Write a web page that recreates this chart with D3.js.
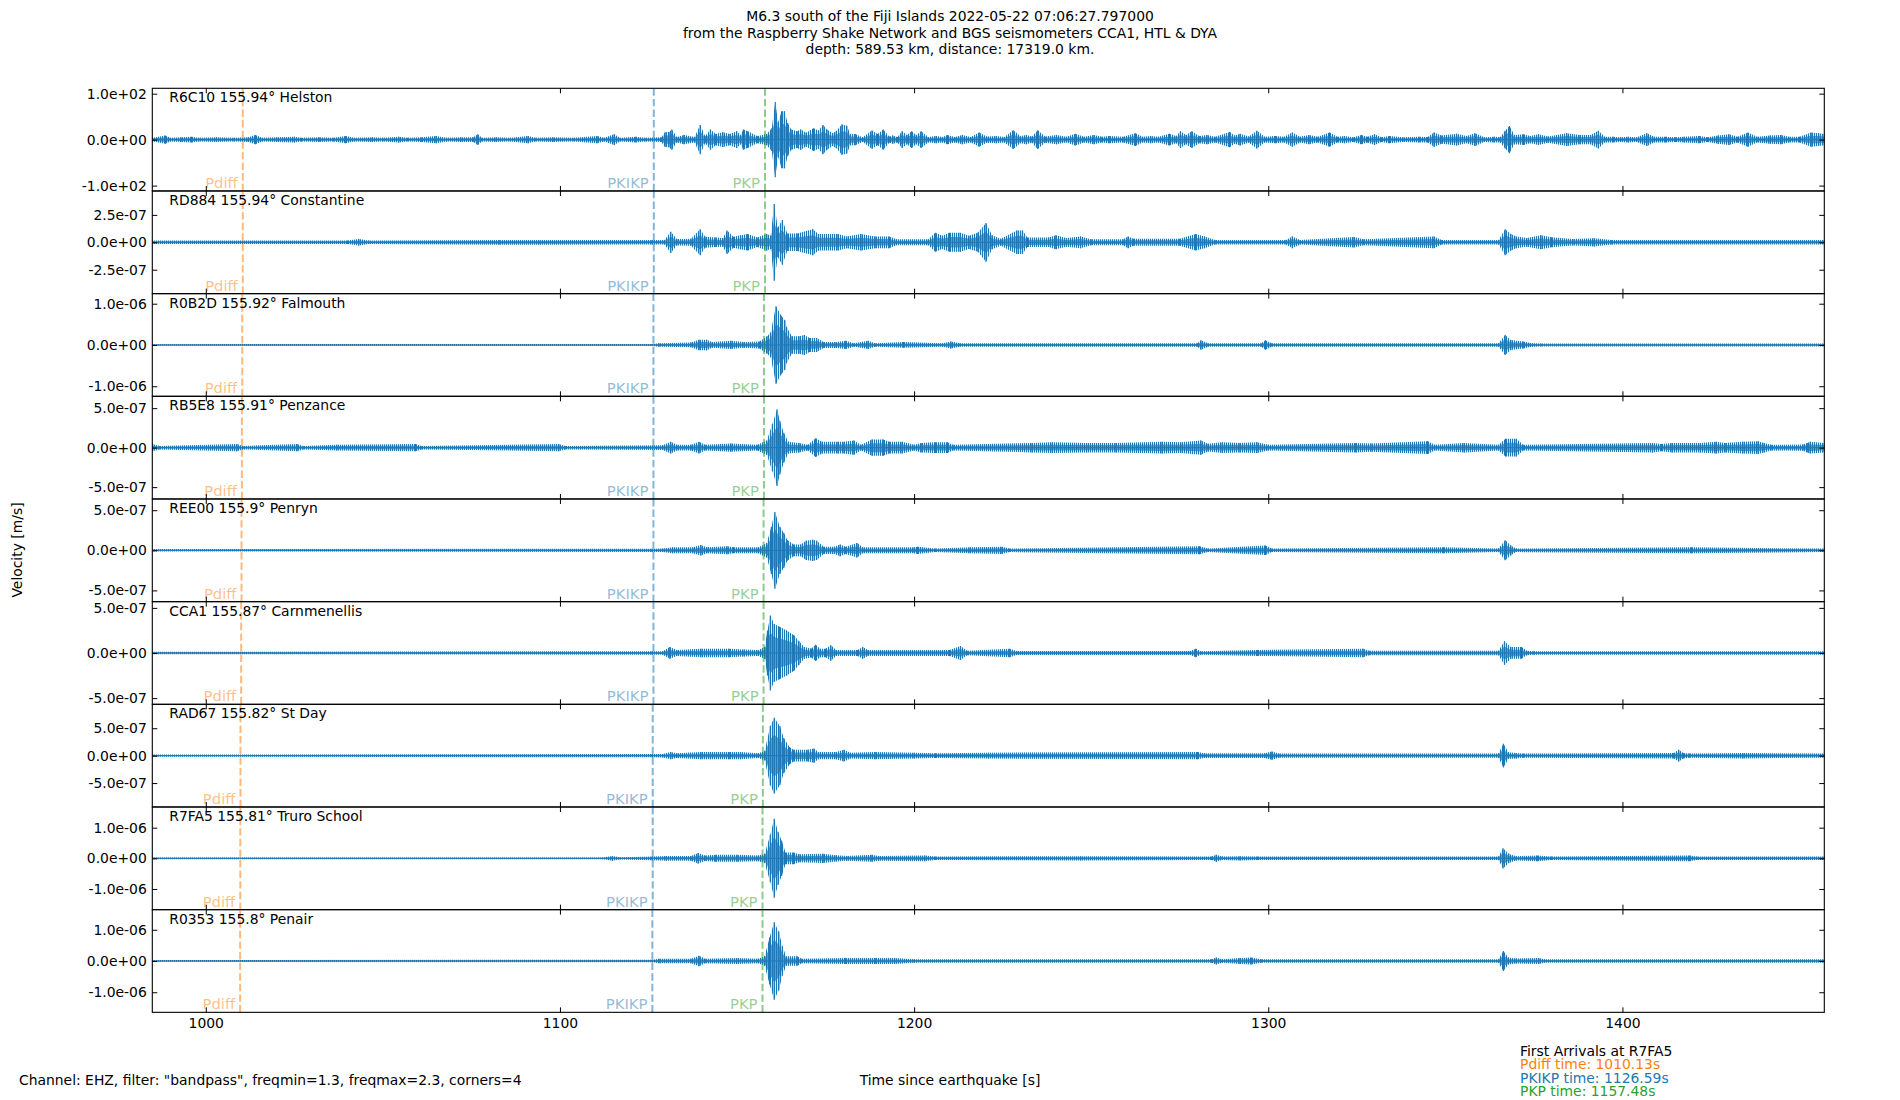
<!DOCTYPE html>
<html>
<head>
  <meta charset="utf-8">
  <title>M6.3 south of the Fiji Islands - seismograms</title>
  <script src="https://d3js.org/d3.v7.min.js"></script>
  <style>
    body { margin: 0; background: #ffffff; }
    svg text { font-family: "DejaVu Sans", sans-serif; }
  </style>
</head>
<body>
<svg class="chart" width="1900" height="1100"></svg>
<script>

// Title lines
const titleLines = [
  "M6.3 south of the Fiji Islands 2022-05-22 07:06:27.797000",
  "from the Raspberry Shake Network and BGS seismometers CCA1, HTL & DYA",
  "depth: 589.53 km, distance: 17319.0 km."
];

// Stations, top to bottom
const stations  = ["R6C10", "RD884", "R0B2D", "RB5E8", "REE00", "CCA1", "RAD67", "R7FA5", "R0353"];
const distances = ["155.94", "155.94", "155.92", "155.91", "155.9", "155.87", "155.82", "155.81", "155.8"];
const places    = ["Helston", "Constantine", "Falmouth", "Penzance", "Penryn", "Carnmenellis", "St Day", "Truro School", "Penair"];

// Arrival times per station (s)
const pdiffTimes = [1010.45, 1010.45, 1010.3, 1010.2, 1010.1, 1010.0, 1009.8, 1009.75, 1009.7];
const pkikpTimes = [1126.5, 1126.5, 1126.4, 1126.4, 1126.4, 1126.4, 1126.2, 1126.2, 1126.1];
const pkpTimes   = [1157.9, 1157.9, 1157.6, 1157.6, 1157.5, 1157.5, 1157.3, 1157.2, 1157.2];

// y axis half-range and tick step per panel (panel 1 in counts, others m/s)
const yLimits = [111.7, 4.68e-7, 1.244e-6, 6.5e-7, 6.4e-7, 5.69e-7, 9.36e-7, 1.675e-6, 1.643e-6];
const yTickSteps = [100, 2.5e-7, 1e-6, 5e-7, 5e-7, 5e-7, 5e-7, 1e-6, 1e-6];

// envelope values below are in these units
const envUnits = [1, 1e-7, 1e-7, 1e-7, 1e-7, 1e-7, 1e-7, 1e-7, 1e-7];

// x axis
const timeRange = [984.9, 1457.0];
const xTickValues = [1000, 1100, 1200, 1300, 1400];

// Trace envelopes: [time (s), amplitude]
const envR6C10 = [[985,4],[988.6,9],[990,4],[993,5],[996,6.5],[998,4],[1003,5],[1008,4],[1012,5],[1014,10],[1016,4],[1020,5],[1025,6.5],[1027,4],[1032,5],[1036,4],[1039.5,7.7],[1042,4],[1047,5],[1050,4],[1054.5,6.5],[1057,4],[1061,5],[1065,7.7],[1068,4],[1072,5],[1075.5,5],[1076.8,11.5],[1078,4],[1082,5],[1086,4],[1091,7.7],[1093,4],[1098,5],[1104,4],[1110.5,7.7],[1112.5,4],[1115.3,11.5],[1117,4],[1121.4,6.5],[1124,4],[1128.6,5],[1129.7,16],[1130.8,16.7],[1131.6,22],[1133,6],[1135,10],[1138,6],[1139.6,32],[1141,8],[1142.5,22],[1144,12],[1146,16],[1148,12],[1149.9,18],[1151,10],[1151.8,22],[1153,18],[1155.7,7.7],[1158.4,12],[1159.8,25],[1160.8,82],[1161.6,38],[1162.6,62],[1163.4,62],[1164.3,36],[1165.3,22],[1167,18],[1168,22],[1169.5,15],[1171.6,25],[1173,20],[1174.3,32],[1175.4,22],[1177,14],[1178,18],[1179.6,33],[1181,30],[1182,12],[1183.4,12],[1185.5,5],[1188.1,20],[1189.7,12],[1191.3,22],[1193,7],[1194,9],[1195.3,6],[1196.6,18],[1198,10],[1199.3,18],[1200.6,10],[1202,18],[1204,6],[1206.2,7.7],[1208,6],[1209.4,10],[1211.5,6],[1213.6,10],[1216,6],[1218.4,15.4],[1220.5,7],[1223.2,7.7],[1225.5,6],[1228,20.5],[1230,8],[1231.7,10],[1233.3,7],[1234.9,20.5],[1237,7],[1240.2,10],[1243,6.4],[1245.5,12.8],[1248,6.4],[1250.8,10],[1253,6.4],[1255.1,7.7],[1259,6.4],[1262.5,14],[1264.5,6.4],[1266.8,7.7],[1269,6.4],[1272.1,12.8],[1274,8],[1275.2,18],[1276.8,10],[1278.4,18],[1280.5,8],[1282.7,10],[1285,6.4],[1289.1,16.7],[1290.5,9],[1292,12.8],[1294.5,7],[1296.8,19.2],[1299,6.4],[1302,8],[1304.5,6.4],[1306.8,15.4],[1309,6.4],[1311.5,10],[1314,6.4],[1317.3,15.4],[1319.5,6.4],[1321.5,7.7],[1324,5],[1326.3,10],[1328,6.4],[1330,11.5],[1332,5],[1334.2,7.7],[1338,5],[1342.6,6.4],[1345,6],[1346.8,15.4],[1349,9],[1353.2,12.8],[1356,8],[1358.4,14],[1361,5],[1363.7,6.4],[1365.5,6],[1366.9,19.2],[1368.1,29.5],[1369.5,10],[1372.1,11.5],[1374,8],[1376.3,11.5],[1379,7],[1384.3,14],[1388,10],[1391,10],[1393.2,19.2],[1395,6.4],[1397.4,6.4],[1399.5,5],[1401.6,6.4],[1404,5],[1406.9,14],[1409,6.4],[1412.2,6.4],[1415,5],[1417.4,6.4],[1421.7,7.7],[1424,5],[1427,9],[1430.1,11.5],[1432.5,6.4],[1435.4,15.4],[1438,6.4],[1441.7,9],[1444.8,10],[1447,6.4],[1450,6.4],[1453.3,15.4],[1455.4,14],[1457,12]];
const envRD884 = [[985,0.16],[1040,0.16],[1043.2,0.3],[1046,0.16],[1082.8,0.22],[1094,0.22],[1126,0.2],[1129.5,0.2],[1131.3,0.97],[1133,0.3],[1137,0.32],[1139.6,1.18],[1141,0.5],[1144,0.43],[1146,0.4],[1147.2,1.07],[1149,0.5],[1151,0.64],[1153,0.75],[1155.7,0.43],[1158.4,0.75],[1159.5,0.6],[1160.5,3.5],[1161.5,1.34],[1162.8,2.04],[1164.2,0.8],[1167,0.8],[1171.4,1.18],[1173,0.75],[1178.5,0.75],[1181,0.54],[1185,0.75],[1189,0.54],[1193,0.54],[1195,0.27],[1204,0.27],[1206,0.86],[1208,0.6],[1210,0.86],[1213,0.86],[1215.5,0.6],[1218,0.86],[1220.3,1.77],[1222,0.64],[1224.5,0.32],[1229,1.07],[1230.6,1.07],[1232,0.43],[1238,0.43],[1240,0.64],[1243,0.4],[1247,0.54],[1250,0.27],[1259,0.27],[1260.4,0.54],[1262,0.32],[1275,0.32],[1279.5,0.75],[1282,0.54],[1285,0.2],[1305,0.2],[1306.8,0.54],[1309,0.2],[1324.2,0.48],[1327,0.27],[1346.8,0.54],[1349,0.2],[1365,0.2],[1366.9,1.18],[1368.5,0.75],[1370,0.54],[1373,0.4],[1377,0.64],[1380,0.45],[1386,0.3],[1392,0.38],[1397,0.2],[1457,0.2]];
const envR0B2D = [[985,0.2],[1126,0.25],[1128,0.43],[1137,0.57],[1139.3,1.29],[1141.4,1.29],[1143,0.7],[1148.3,1.0],[1152,0.7],[1156.3,0.85],[1158.5,2.1],[1159.5,3],[1161,9.4],[1162.5,7.1],[1163.5,6],[1164,4.3],[1165.5,2.1],[1167.5,2.1],[1169,2.4],[1170.5,1.7],[1172.5,1.7],[1174.5,0.71],[1178,0.71],[1180.7,1.0],[1183,0.43],[1187,1.0],[1189,0.43],[1197,0.7],[1208,0.43],[1210.4,0.86],[1213,0.43],[1280,0.43],[1281,1.14],[1283,0.43],[1298,0.43],[1299.2,1.14],[1301,0.43],[1365,0.43],[1366.9,2.4],[1368.5,1.2],[1372,0.86],[1374,0.5],[1377,0.36],[1457,0.36]];
const envRB5E8 = [[985,0.45],[987,0.22],[1008.8,0.45],[1010.5,0.22],[1025.8,0.45],[1027.5,0.22],[1037,0.37],[1059.2,0.45],[1061,0.22],[1099.7,0.45],[1101.5,0.22],[1129,0.3],[1131.3,0.75],[1133,0.37],[1137,0.37],[1139.3,0.75],[1141,0.37],[1148.3,0.52],[1155.7,0.37],[1158.4,0.9],[1160,3.0],[1161.3,4.85],[1162.1,3.4],[1163.2,1.9],[1164.5,0.75],[1167.5,0.6],[1170,0.37],[1172.2,1.2],[1174,0.75],[1178.5,0.75],[1180.2,0.75],[1183,0.9],[1185,0.37],[1188.1,1.04],[1191.3,1.04],[1193,0.75],[1196.6,0.75],[1200,0.37],[1202,0.6],[1206,0.67],[1209.4,0.67],[1211,0.37],[1233.3,0.6],[1239,0.67],[1248.7,0.6],[1257,0.6],[1270,0.75],[1275.3,0.67],[1281,0.9],[1283,0.5],[1287,0.67],[1292,0.6],[1296.8,0.67],[1300,0.37],[1324.7,0.6],[1329,0.52],[1345,0.82],[1347,0.37],[1355.3,0.6],[1365,0.37],[1367,1.12],[1370,1.12],[1372,0.37],[1408.5,0.6],[1411,0.45],[1414,0.6],[1422,0.6],[1426.4,0.75],[1429,0.6],[1434,0.75],[1438.3,0.82],[1440,0.6],[1442,0.37],[1451,0.4],[1452.2,0.6],[1453,0.75],[1457,0.6]];
const envREE00 = [[985,0.15],[1126,0.2],[1129,0.22],[1131.8,0.37],[1137.5,0.37],[1139.8,0.66],[1141.5,0.37],[1147.2,0.5],[1149,0.37],[1156,0.37],[1158.4,0.9],[1159.7,2.94],[1160.7,4.78],[1162.1,2.94],[1163.2,2.2],[1164.2,1.3],[1166,0.74],[1168,0.74],[1169.5,1.2],[1171.4,1.32],[1172.5,1.2],[1174.5,0.45],[1177.5,0.45],[1179.1,0.74],[1180.7,0.45],[1183.9,0.9],[1185.5,0.37],[1200,0.37],[1201,0.45],[1206,0.22],[1215.8,0.37],[1224.8,0.45],[1227,0.22],[1280.6,0.5],[1283,0.22],[1299.2,0.59],[1301,0.22],[1349.5,0.37],[1365,0.22],[1366.9,1.25],[1368.5,0.6],[1370,0.22],[1419.5,0.37],[1457,0.22]];
const envCCA1 = [[985,0.13],[1126,0.2],[1129,0.2],[1131,0.65],[1133,0.33],[1139.8,0.46],[1147.8,0.46],[1152,0.4],[1156,0.33],[1157.8,0.65],[1158.6,2.5],[1159.4,4.15],[1160.5,3.2],[1162,2.9],[1164,2.5],[1166,2.0],[1167.5,1.3],[1169,0.65],[1171,0.5],[1172.2,0.9],[1173.5,0.46],[1175,0.46],[1176.5,0.85],[1178,0.33],[1184,0.33],[1185.5,0.65],[1187,0.33],[1210,0.33],[1213.1,0.78],[1215,0.26],[1227,0.46],[1229,0.23],[1278,0.23],[1279.5,0.46],[1281,0.2],[1297,0.33],[1326.8,0.46],[1328.5,0.26],[1365,0.26],[1366.7,1.3],[1368.5,0.65],[1371.5,0.65],[1373,0.26],[1375,0.2],[1457,0.2]];
const envRAD67 = [[985,0.2],[1126,0.3],[1129,0.32],[1131.3,0.65],[1133,0.43],[1139.8,0.65],[1142.5,0.65],[1147.8,0.65],[1151,0.65],[1156,0.43],[1157.8,0.86],[1159.4,5.4],[1160.5,6.9],[1162.1,5.4],[1163.2,3.2],[1164.8,1.6],[1166,1.08],[1170,1.08],[1171.7,1.3],[1173,0.65],[1178,0.65],[1180.2,1.08],[1182,0.54],[1189,0.65],[1200,0.54],[1206,0.43],[1221,0.54],[1280,0.65],[1282,0.43],[1299,0.43],[1301,0.75],[1303,0.38],[1365,0.38],[1366.4,2.15],[1367.8,0.6],[1370,0.5],[1372,0.38],[1414.5,0.5],[1415.9,1.08],[1417.2,0.5],[1419,0.38],[1434,0.5],[1457,0.38]];
const envR7FA5 = [[985,0.29],[1112,0.29],[1114.8,0.77],[1117,0.35],[1126,0.6],[1130,0.77],[1137,0.77],[1139,1.7],[1141,0.9],[1144,1.15],[1150,1.15],[1156,0.96],[1157.8,1.5],[1159.4,7.7],[1160.5,12.9],[1161.6,8.7],[1162.6,5.8],[1163.7,1.9],[1166,1.9],[1167.5,1.3],[1174.3,1.5],[1178,1.0],[1181,0.77],[1188.1,1.15],[1190,0.77],[1203,0.96],[1206,0.58],[1247,0.7],[1284,0.58],[1285.3,1.15],[1287,0.58],[1292,0.7],[1297,0.58],[1365,0.58],[1366.3,3.3],[1367.9,1.5],[1370,0.7],[1376,0.96],[1380,0.58],[1419,0.96],[1421,0.58],[1457,0.58]];
const envR0353 = [[985,0.28],[1126,0.4],[1128,0.75],[1137,0.75],[1139.3,1.7],[1141,0.75],[1149.9,0.94],[1156,0.75],[1157.8,1.5],[1159.2,7.5],[1160.5,12.4],[1161.8,9.4],[1162.8,4.7],[1163.9,1.5],[1167,1.5],[1168.3,0.75],[1180.7,0.94],[1189,0.94],[1194.5,0.94],[1200,0.57],[1284,0.57],[1285.3,1.13],[1287,0.57],[1292,0.94],[1295.2,1.13],[1298,0.57],[1365,0.57],[1366.4,3.2],[1367.8,1.13],[1370,0.8],[1376.4,0.94],[1378,0.57],[1457,0.57]];
const envelopes = [envR6C10, envRD884, envR0B2D, envRB5E8, envREE00, envCCA1, envRAD67, envR7FA5, envR0353];

// First arrivals box
const firstArrivalStation = "R7FA5";
const arrivalNames = ["Pdiff", "PKIKP", "PKP"];
const arrivalTimes = ["1010.13", "1126.59", "1157.48"];
const arrivalColors = ["#ff7f0e", "#1f77b4", "#2ca02c"];

const footnote = 'Channel: EHZ, filter: "bandpass", freqmin=1.3, freqmax=2.3, corners=4';

// Layout
const margin = {top: 88.3, left: 152.3, right: 75.7},
  width = 1900 - margin.left - margin.right,
  panelH = 102.67,
  nPanels = stations.length;

const svg = d3.select(".chart");
svg.append("rect").attr("width", 1900).attr("height", 1100).attr("fill", "#ffffff");

// stripe patterns give the trace its wiggly texture
const defs = svg.append("defs");
const pat = defs.append("pattern")
  .attr("id", "wiggle")
  .attr("patternUnits", "userSpaceOnUse")
  .attr("width", 2).attr("height", 8);
pat.append("rect").attr("width", 2).attr("height", 8)
  .attr("fill", "#1f77b4").attr("fill-opacity", 0.15);
pat.append("rect").attr("width", 1).attr("height", 8)
  .attr("fill", "#1f77b4");

const patCore = defs.append("pattern")
  .attr("id", "wiggleCore")
  .attr("patternUnits", "userSpaceOnUse")
  .attr("width", 2).attr("height", 8);
patCore.append("rect").attr("width", 2).attr("height", 8)
  .attr("fill", "#1f77b4").attr("fill-opacity", 0.55);
patCore.append("rect").attr("width", 1.3).attr("height", 8)
  .attr("fill", "#1f77b4");

const x = d3.scaleLinear()
  .domain(timeRange)
  .range([margin.left, margin.left + width]);

// format like matplotlib "%.1e"
function sciFormat(v) {
  if (v === 0) return "0.0e+00";
  const parts = v.toExponential(1).split("e");
  const n = +parts[1];
  return parts[0] + "e" + (n < 0 ? "-" : "+") + String(Math.abs(n)).padStart(2, "0");
}

const fs = 13.9;

// Title
svg.append("g").selectAll("text")
  .data(titleLines)
  .join("text")
    .attr("x", 950)
    .attr("y", (d, i) => 21 + i * 16.7)
    .attr("text-anchor", "middle")
    .style("font-size", fs + "px")
    .text(d => d);

stations.forEach(function(st, i) {
  const top = margin.top + i * panelH;
  const bottom = top + panelH;
  const unit = envUnits[i];

  const y = d3.scaleLinear()
    .domain([-yLimits[i], yLimits[i]])
    .range([bottom, top]);

  const panel = svg.append("g").attr("class", "panel");

  defs.append("clipPath").attr("id", "clip" + i)
    .append("rect")
      .attr("x", margin.left).attr("y", top)
      .attr("width", width).attr("height", panelH);

  const plot = panel.append("g").attr("clip-path", `url(#clip${i})`);

  // zero line of the trace
  plot.append("line")
    .attr("x1", x(timeRange[0])).attr("x2", x(timeRange[1]))
    .attr("y1", y(0)).attr("y2", y(0))
    .attr("stroke", "#1f77b4").attr("stroke-width", 1);

  // envelope of the trace: full swing in thin strokes, denser middle
  const area = k => d3.area()
    .x(d => x(d[0]))
    .y0(d => y(-d[1] * unit * k))
    .y1(d => y(d[1] * unit * k));

  plot.append("path")
    .datum(envelopes[i])
    .attr("d", area(1))
    .attr("fill", "url(#wiggle)");

  plot.append("path")
    .datum(envelopes[i])
    .attr("d", area(0.55))
    .attr("fill", "url(#wiggleCore)");

  // each read peak as a full swing stroke
  plot.selectAll(".peak")
    .data(envelopes[i])
    .join("line")
      .attr("class", "peak")
      .attr("x1", d => x(d[0])).attr("x2", d => x(d[0]))
      .attr("y1", d => y(-d[1] * unit)).attr("y2", d => y(d[1] * unit))
      .attr("stroke", "#1f77b4")
      .attr("stroke-width", 1.2);

  // arrival lines
  const phases = [
    {name: "Pdiff", t: pdiffTimes[i], color: "#ff7f0e"},
    {name: "PKIKP", t: pkikpTimes[i], color: "#1f77b4"},
    {name: "PKP", t: pkpTimes[i], color: "#2ca02c"}
  ];
  plot.selectAll(".phase")
    .data(phases)
    .join("line")
      .attr("class", "phase")
      .attr("x1", d => x(d.t)).attr("x2", d => x(d.t))
      .attr("y1", top).attr("y2", bottom)
      .attr("stroke", d => d.color)
      .attr("stroke-opacity", 0.55)
      .attr("stroke-width", 2)
      .attr("stroke-dasharray", "7.4,3.2");

  plot.selectAll(".phaseLabel")
    .data(phases)
    .join("text")
      .attr("class", "phaseLabel")
      .attr("x", d => x(d.t) - 5)
      .attr("y", bottom - 3)
      .attr("text-anchor", "end")
      .attr("fill", d => d.color)
      .attr("fill-opacity", 0.5)
      .style("font-size", "14.8px")
      .text(d => d.name);

  // station label
  panel.append("text")
    .attr("x", margin.left + 17)
    .attr("y", top + 14)
    .style("font-size", fs + "px")
    .text(`${st} ${distances[i]}° ${places[i]}`);

  // y axes, ticks pointing in
  const yt = [-yTickSteps[i], 0, yTickSteps[i]];
  const yl = panel.append("g")
    .attr("transform", `translate(${margin.left},0)`)
    .call(d3.axisLeft(y).tickValues(yt).tickSize(-5).tickPadding(5.5).tickFormat(sciFormat));
  yl.select(".domain").remove();
  yl.selectAll("text").attr("font-family", null).style("font-size", fs + "px").attr("fill", "#000");

  const yr = panel.append("g")
    .attr("transform", `translate(${margin.left + width},0)`)
    .call(d3.axisRight(y).tickValues(yt).tickSize(-5).tickFormat(""));
  yr.select(".domain").remove();

  // x ticks top and bottom
  const xb = panel.append("g")
    .attr("transform", `translate(0,${bottom})`)
    .call(d3.axisBottom(x).tickValues(xTickValues).tickSize(-5).tickPadding(6)
      .tickFormat(i === nPanels - 1 ? d3.format("d") : ""));
  xb.select(".domain").remove();
  xb.selectAll("text").attr("font-family", null).style("font-size", fs + "px").attr("fill", "#000");

  const xt = panel.append("g")
    .attr("transform", `translate(0,${top})`)
    .call(d3.axisTop(x).tickValues(xTickValues).tickSize(-5).tickFormat(""));
  xt.select(".domain").remove();

  panel.selectAll(".tick line").attr("stroke", "#000").attr("stroke-width", 1);

  // frame
  panel.append("rect")
    .attr("x", margin.left).attr("y", top)
    .attr("width", width).attr("height", panelH)
    .attr("fill", "none")
    .attr("stroke", "#000")
    .attr("stroke-width", 1.1);
});

// axis titles
svg.append("text")
  .attr("transform", "translate(17,550) rotate(-90)")
  .attr("text-anchor", "middle")
  .attr("dominant-baseline", "central")
  .style("font-size", fs + "px")
  .text("Velocity [m/s]");

svg.append("text")
  .attr("x", 950).attr("y", 1085)
  .attr("text-anchor", "middle")
  .style("font-size", fs + "px")
  .text("Time since earthquake [s]");

svg.append("text")
  .attr("x", 19).attr("y", 1085)
  .style("font-size", fs + "px")
  .text(footnote);

// first arrivals legend
const legend = svg.append("g");
legend.append("text")
  .attr("x", 1520).attr("y", 1056)
  .style("font-size", fs + "px")
  .text("First Arrivals at " + firstArrivalStation);
legend.selectAll(".arr")
  .data(arrivalNames)
  .join("text")
    .attr("class", "arr")
    .attr("x", 1520)
    .attr("y", (d, i) => 1069.3 + i * 13.35)
    .attr("fill", (d, i) => arrivalColors[i])
    .style("font-size", fs + "px")
    .text((d, i) => `${d} time: ${arrivalTimes[i]}s`);

</script>
</body>
</html>
